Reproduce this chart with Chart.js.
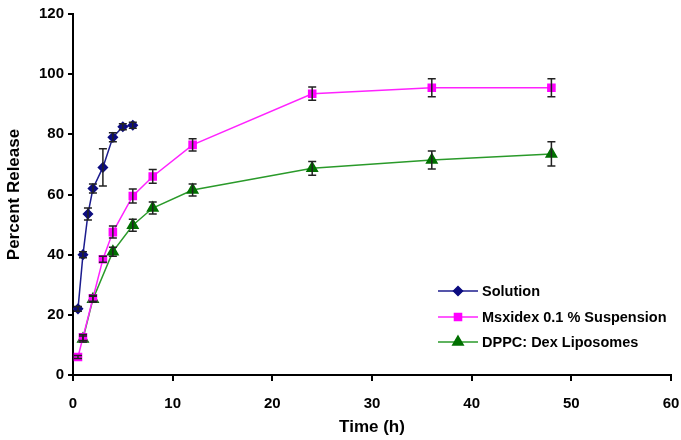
<!DOCTYPE html>
<html><head><meta charset="utf-8">
<script src="https://cdn.jsdelivr.net/npm/chart.js@4"></script>
<style>html,body{margin:0;padding:0;background:#fff}#wrap{width:681px;height:440px;position:relative}</style>
</head><body><div id="wrap"><canvas id="c"></canvas></div>
<script>
const xTicks=[0,10,20,30,40,50,60];
const yTicks=[0,20,40,60,80,100,120];
const seriesNames=["Solution","Msxidex 0.1 % Suspension","DPPC: Dex Liposomes"];
const solutionX=[0.5,1,1.5,2,3,4,5,6];
const solutionY=[22,40,53.5,62,69,79,82.5,83];
const solutionErr=[0.8,1,2,1.5,6.2,1.5,1,1];
const suspX=[0.5,1,2,3,4,6,8,12,24,36,48];
const suspY=[6,12.5,25.5,38.5,47.5,59.5,66,76.5,93.5,95.5,95.5];
const suspErr=[0.5,1,1,1,2,2.3,2.3,2,2.2,3,3];
const lipoX=[1,2,4,6,8,12,24,36,48];
const lipoY=[12,25.2,41,49.8,55.5,61.5,68.7,71.5,73.5];
const lipoErr=[1,1,1.5,2,2,2,2.3,3,4];

const pts=(xs,ys)=>xs.map((x,i)=>({x:x,y:ys[i]}));
const errs=[solutionErr,suspErr,lipoErr];
const FONT="'Liberation Sans', Arial, sans-serif";

const errorBars={id:'errorBars',afterDatasetsDraw(chart){
  const ctx=chart.ctx,xs=chart.scales.x,ys=chart.scales.y;
  ctx.save();ctx.strokeStyle='#222';ctx.lineWidth=1.5;
  chart.data.datasets.forEach((ds,di)=>{
    ds.data.forEach((p,i)=>{
      const e=errs[di][i];const px=xs.getPixelForValue(p.x);
      const y1=ys.getPixelForValue(p.y+e),y2=ys.getPixelForValue(p.y-e);
      ctx.beginPath();ctx.moveTo(px,y1);ctx.lineTo(px,y2);
      ctx.moveTo(px-4,y1);ctx.lineTo(px+4,y1);
      ctx.moveTo(px-4,y2);ctx.lineTo(px+4,y2);ctx.stroke();
    });
  });
  ctx.restore();
}};

const legendBox={id:'legendBox',afterDraw(chart){
  const ctx=chart.ctx;const rows=[291,317,342];
  ctx.save();
  chart.data.datasets.forEach((ds,i)=>{
    const y=rows[i];
    ctx.strokeStyle=ds.borderColor;ctx.lineWidth=1.5;
    ctx.beginPath();ctx.moveTo(438,y);ctx.lineTo(478,y);ctx.stroke();
    ctx.fillStyle=ds.pointBackgroundColor;ctx.strokeStyle=ds.pointBorderColor;
    Chart.helpers.drawPoint(ctx,{pointStyle:ds.pointStyle,radius:ds.pointRadius,borderWidth:1},458,y);
    ctx.fillStyle='#000';ctx.font="bold 14.5px "+FONT;ctx.textBaseline='middle';ctx.textAlign='left';
    ctx.fillText(ds.label,482,y+1);
  });
  ctx.restore();
}};

const tickFont={family:FONT,size:15,weight:'bold'};
const titleFont={family:FONT,size:17,weight:'bold'};

new Chart(document.getElementById('c'),{
  type:'scatter',
  data:{datasets:[
    {label:seriesNames[0],data:pts(solutionX,solutionY),showLine:true,borderColor:'#1c1c8e',backgroundColor:'#0c0c80',pointBackgroundColor:'#0c0c80',pointBorderColor:'#0c0c80',pointStyle:'rectRot',pointRadius:4.5,borderWidth:1.5},
    {label:seriesNames[1],data:pts(suspX,suspY),showLine:true,borderColor:'#ff22ff',backgroundColor:'#ff00ff',pointBackgroundColor:'#ff00ff',pointBorderColor:'#ff00ff',pointStyle:'rect',pointRadius:5,borderWidth:1.5},
    {label:seriesNames[2],data:pts(lipoX,lipoY),showLine:true,borderColor:'#2a9a2a',backgroundColor:'#007000',pointBackgroundColor:'#007000',pointBorderColor:'#007000',pointStyle:'triangle',pointRadius:6,borderWidth:1.5}
  ]},
  options:{
    responsive:true,maintainAspectRatio:false,animation:false,
    layout:{padding:{top:14,right:10,left:0,bottom:0}},
    plugins:{legend:{display:false},tooltip:{enabled:false}},
    scales:{
      x:{type:'linear',min:0,max:60,
        afterBuildTicks:s=>{s.ticks=xTicks.map(v=>({value:v}));},
        afterFit:s=>{s.height=65;s.paddingRight=0;},
        ticks:{color:'#000',font:tickFont,padding:14,maxRotation:0},
        grid:{drawOnChartArea:false,drawTicks:true,tickLength:6,color:'#000',lineWidth:2},
        border:{color:'#000',width:2},
        title:{display:true,text:'Time (h)',color:'#000',font:titleFont,padding:{top:8,bottom:2}}
      },
      y:{type:'linear',min:0,max:120,
        afterBuildTicks:s=>{s.ticks=yTicks.map(v=>({value:v}));},
        afterFit:s=>{s.width=73;},
        ticks:{color:'#000',font:tickFont,padding:4},
        grid:{drawOnChartArea:false,drawTicks:true,tickLength:5,color:'#000',lineWidth:2},
        border:{color:'#000',width:2},
        title:{display:true,text:'Percent Release',color:'#000',font:titleFont,padding:{top:4,bottom:2}}
      }
    }
  },
  plugins:[errorBars,legendBox]
});
</script></body></html>
